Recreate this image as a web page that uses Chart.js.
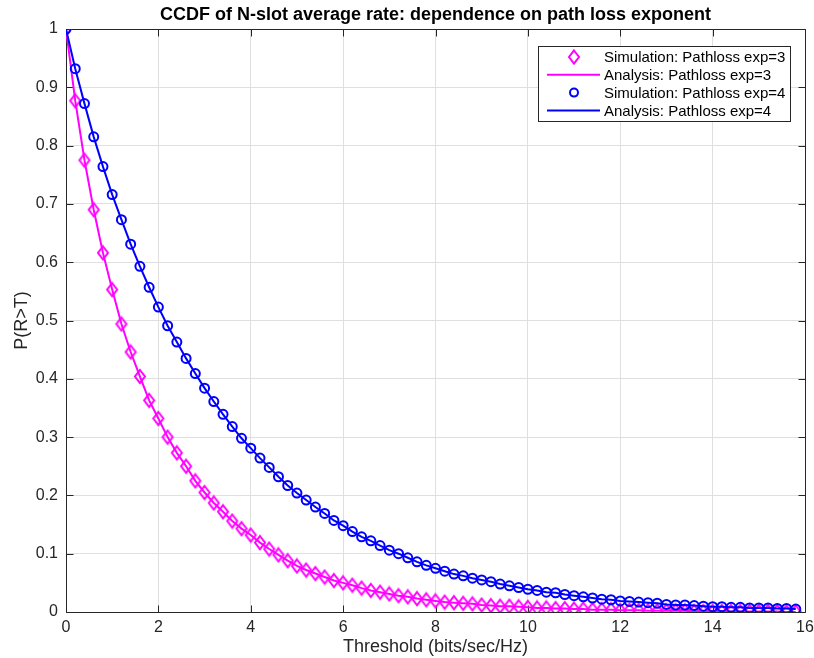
<!DOCTYPE html>
<html>
<head>
<meta charset="utf-8">
<script src="https://cdn.jsdelivr.net/npm/chart.js@4.4.0/dist/chart.umd.min.js"></script>
<style>
  body { margin: 0; background: #fff; }
  canvas { display: block; }
</style>
</head>
<body>
<canvas id="ccdf" width="814" height="658"></canvas>
<script>
// threshold grid, 0 : 0.2 : 15.8
const thresholds = [];
for (let i = 0; i < 80; i++) thresholds.push(+(i * 0.2).toFixed(1));

// simulated CCDF, path loss exponent 3
const simExp3 = [
  1.000, 0.877, 0.775, 0.690, 0.616, 0.553, 0.494, 0.446, 0.404, 0.363,
  0.332, 0.300, 0.273, 0.250, 0.225, 0.205, 0.187, 0.172, 0.156, 0.143,
  0.132, 0.119, 0.108, 0.098, 0.088, 0.079, 0.072, 0.066, 0.060, 0.054,
  0.050, 0.046, 0.041, 0.037, 0.034, 0.031, 0.028, 0.026, 0.023, 0.021,
  0.019, 0.017, 0.016, 0.015, 0.014, 0.012, 0.011, 0.010, 0.010, 0.009,
  0.008, 0.007, 0.007, 0.006, 0.006, 0.005, 0.005, 0.004, 0.004, 0.004,
  0.003, 0.003, 0.003, 0.002, 0.002, 0.002, 0.002, 0.002, 0.001, 0.001,
  0.001, 0.001, 0.001, 0.001, 0.001, 0.001, 0.001, 0.001, 0.000, 0.000
];
// analytical CCDF, path loss exponent 3
const anaExp3 = simExp3.slice();

// simulated CCDF, path loss exponent 4
const simExp4 = [
  1.000, 0.932, 0.872, 0.815, 0.764, 0.716, 0.673, 0.631, 0.593, 0.557,
  0.523, 0.491, 0.463, 0.435, 0.409, 0.384, 0.361, 0.339, 0.318, 0.298,
  0.281, 0.264, 0.248, 0.232, 0.217, 0.204, 0.192, 0.180, 0.169, 0.157,
  0.148, 0.138, 0.129, 0.122, 0.114, 0.106, 0.100, 0.093, 0.086, 0.080,
  0.075, 0.070, 0.065, 0.062, 0.058, 0.055, 0.052, 0.048, 0.045, 0.042,
  0.039, 0.037, 0.034, 0.033, 0.030, 0.028, 0.026, 0.024, 0.022, 0.021,
  0.019, 0.018, 0.017, 0.016, 0.015, 0.013, 0.012, 0.012, 0.011, 0.010,
  0.009, 0.009, 0.008, 0.008, 0.007, 0.007, 0.007, 0.006, 0.006, 0.005
];
// analytical CCDF, path loss exponent 4
const anaExp4 = simExp4.slice();

const legendLabels = [
  'Simulation: Pathloss exp=3',
  'Analysis: Pathloss exp=3',
  'Simulation: Pathloss exp=4',
  'Analysis: Pathloss exp=4'
];

const MAGENTA = '#ff00ff';
const BLUE = '#0000ff';
const AXIS = '#262626';
const GRID = '#dfdfdf';
const FONT = '"Liberation Sans", Arial, Helvetica, sans-serif';

function toPoints(ys) {
  return ys.map((y, i) => ({ x: thresholds[i], y: y }));
}

// hollow diamond, a bit taller than wide
function diamondPath(c, cx, cy) {
  c.beginPath();
  c.moveTo(cx, cy - 6.5);
  c.lineTo(cx + 5, cy);
  c.lineTo(cx, cy + 6.5);
  c.lineTo(cx - 5, cy);
  c.closePath();
}
const diamond = document.createElement('canvas');
diamond.width = 14;
diamond.height = 17;
(function () {
  const c = diamond.getContext('2d');
  c.strokeStyle = MAGENTA;
  c.lineWidth = 2;
  diamondPath(c, 7, 8.5);
  c.stroke();
})();

// box around the axes with inward tick marks on all four sides
const boxPlugin = {
  id: 'boxPlugin',
  beforeDatasetsDraw(chart) {
    const { ctx, chartArea: a, scales } = chart;
    const l = Math.round(a.left) + 0.5, r = Math.round(a.right) + 0.5;
    const t = Math.round(a.top) + 0.5, b = Math.round(a.bottom) + 0.5;
    ctx.save();
    ctx.strokeStyle = AXIS;
    ctx.lineWidth = 1;
    ctx.beginPath();
    scales.x.ticks.forEach(tk => {
      const px = Math.round(scales.x.getPixelForValue(tk.value)) + 0.5;
      ctx.moveTo(px, b); ctx.lineTo(px, b - 7);
      ctx.moveTo(px, t); ctx.lineTo(px, t + 7);
    });
    scales.y.ticks.forEach(tk => {
      const py = Math.round(scales.y.getPixelForValue(tk.value)) + 0.5;
      ctx.moveTo(l, py); ctx.lineTo(l + 7, py);
      ctx.moveTo(r, py); ctx.lineTo(r - 7, py);
    });
    ctx.rect(l, t, r - l, b - t);
    ctx.stroke();
    ctx.restore();
  }
};

// legend box in the upper right corner
const legendPlugin = {
  id: 'legendPlugin',
  afterDraw(chart) {
    const { ctx } = chart;
    const x0 = 538, y0 = 46, w = 252, h = 75;
    ctx.save();
    ctx.fillStyle = '#fff';
    ctx.fillRect(x0, y0, w, h);
    ctx.strokeStyle = AXIS;
    ctx.lineWidth = 1;
    ctx.strokeRect(x0 + 0.5, y0 + 0.5, w, h);
    ctx.font = '15px ' + FONT;
    ctx.textBaseline = 'middle';
    chart.data.datasets.forEach((ds, i) => {
      const cy = y0 + 11 + i * 17.8;
      const mx = x0 + 36;
      ctx.strokeStyle = ds.borderColor;
      ctx.lineWidth = 2;
      if (ds.showLine) {
        ctx.beginPath();
        ctx.moveTo(x0 + 9, cy);
        ctx.lineTo(x0 + 62, cy);
      } else if (ds.pointStyle === diamond) {
        diamondPath(ctx, mx, cy);
      } else {
        ctx.beginPath();
        ctx.arc(mx, cy, 4, 0, Math.PI * 2);
      }
      ctx.stroke();
      ctx.fillStyle = '#000';
      ctx.fillText(legendLabels[i], x0 + 66, cy + 1);
    });
    ctx.restore();
  }
};

const ctx = document.getElementById('ccdf').getContext('2d');

new Chart(ctx, {
  type: 'scatter',
  data: {
    datasets: [
      {
        label: legendLabels[0],
        data: toPoints(simExp3),
        showLine: false,
        pointStyle: diamond,
        pointRadius: 7,
        borderColor: MAGENTA,
        backgroundColor: 'rgba(0,0,0,0)',
        order: 4
      },
      {
        label: legendLabels[1],
        data: toPoints(anaExp3),
        showLine: true,
        pointRadius: 0,
        borderWidth: 2,
        borderColor: MAGENTA,
        order: 3
      },
      {
        label: legendLabels[2],
        data: toPoints(simExp4),
        showLine: false,
        pointStyle: 'circle',
        pointRadius: 4.5,
        pointBorderWidth: 2,
        borderColor: BLUE,
        backgroundColor: 'rgba(0,0,0,0)',
        order: 2
      },
      {
        label: legendLabels[3],
        data: toPoints(anaExp4),
        showLine: true,
        pointRadius: 0,
        borderWidth: 2,
        borderColor: BLUE,
        order: 1
      }
    ]
  },
  options: {
    responsive: false,
    animation: false,
    devicePixelRatio: 1,
    layout: {
      padding: { top: 0, left: 4, right: 9, bottom: 0 }
    },
    plugins: {
      legend: { display: false },
      tooltip: { enabled: false },
      title: {
        display: true,
        fullSize: false,
        text: 'CCDF of N-slot average rate: dependence on path loss exponent',
        color: '#000',
        font: { family: FONT, size: 18, weight: 'bold' },
        padding: { top: 4, bottom: 3.4 }
      }
    },
    scales: {
      x: {
        type: 'linear',
        min: 0,
        max: 16,
        afterFit(scale) {
          scale.height = 46;
          scale.paddingLeft = 0;
          scale.paddingRight = 0;
        },
        ticks: {
          stepSize: 2,
          color: AXIS,
          padding: 6,
          font: { family: FONT, size: 16 }
        },
        grid: { color: GRID, drawTicks: false },
        border: { display: false },
        title: {
          display: true,
          text: 'Threshold (bits/sec/Hz)',
          color: AXIS,
          font: { family: FONT, size: 18 },
          padding: { top: 0, bottom: 0 }
        }
      },
      y: {
        type: 'linear',
        min: 0,
        max: 1,
        afterFit(scale) { scale.width = 62; },
        ticks: {
          stepSize: 0.1,
          color: AXIS,
          padding: 8,
          font: { family: FONT, size: 16 },
          callback: v => +v.toFixed(1)
        },
        grid: { color: GRID, drawTicks: false },
        border: { display: false },
        title: {
          display: true,
          text: 'P(R>T)',
          color: AXIS,
          font: { family: FONT, size: 18 },
          padding: { top: 7, bottom: 0 }
        }
      }
    }
  },
  plugins: [boxPlugin, legendPlugin]
});
</script>
</body>
</html>
